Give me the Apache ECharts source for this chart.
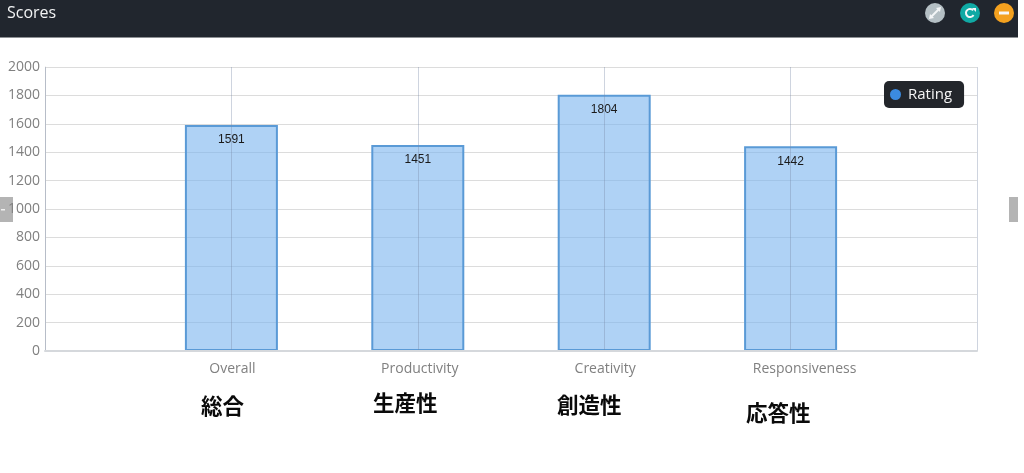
<!DOCTYPE html>
<html><head><meta charset="utf-8">
<style>html,body{margin:0;padding:0;background:#fff}#c{width:1024px;height:473px}</style>
<script src="https://cdn.jsdelivr.net/npm/echarts@6/dist/echarts.min.js"></script>
</head><body><div id="c"></div>
<script>
const categories = ['', 'Overall', 'Productivity', 'Creativity', 'Responsiveness', ''];
const labelNudges = [0, 2, 4, 2, 28, 0];
const ratings = [null, 1591, 1451, 1804, 1442, null];
const seriesName = 'Rating';
const panelTitle = 'Scores';
const japaneseLabels = [
  ['総合', 201, 406],
  ['生産性', 373, 403],
  ['創造性', 557, 405],
  ['応答性', 746, 413]
];
const latin = '"Open Sans", "Noto Sans", sans-serif';
const cjk = '"Noto Sans CJK JP", sans-serif';
const chart = echarts.init(document.getElementById('c'), null, {renderer: 'canvas'});
const header = [
  {type:'rect', shape:{x:0,y:0,width:1018,height:38}, style:{fill:'#21262e'}, z:-5, silent:true},
  {type:'rect', shape:{x:0,y:37,width:1018,height:1}, style:{fill:'#8d9094'}, z:-5, silent:true},
  {type:'text', x:7, y:13, style:{text:panelTitle, font:'16px '+latin, fill:'#f2f3f4', verticalAlign:'middle'}},
  {type:'circle', shape:{cx:935,cy:13,r:10}, style:{fill:'#b4bfc4'}},
  {type:'line', shape:{x1:931,y1:17,x2:939,y2:9}, style:{stroke:'#f4f6f7',lineWidth:2}},
  {type:'polygon', shape:{points:[[929,19],[934,18],[930,14]]}, style:{fill:'#f4f6f7'}},
  {type:'polygon', shape:{points:[[941,7],[936,8],[940,12]]}, style:{fill:'#f4f6f7'}},
  {type:'circle', shape:{cx:970,cy:13,r:10}, style:{fill:'#10a9a4'}},
  {type:'arc', shape:{cx:970,cy:13,r:4,startAngle:0.5,endAngle:5.6}, style:{stroke:'#f4f6f7',lineWidth:2,fill:null}},
  {type:'polygon', shape:{points:[[972,8],[976,8],[976,12]]}, style:{fill:'#f4f6f7'}},
  {type:'circle', shape:{cx:1004,cy:13,r:10}, style:{fill:'#f4a11f'}},
  {type:'rect', shape:{x:999,y:11.5,width:10,height:3}, style:{fill:'#f7f7f7'}},
  {type:'rect', shape:{x:0,y:197,width:13,height:25}, style:{fill:'#b4b4b4'}, z:-5, silent:true},
  {type:'rect', shape:{x:1,y:209,width:4,height:1.5}, style:{fill:'#f0f0f0'}, z:-4, silent:true},
  {type:'rect', shape:{x:1009,y:197,width:9,height:25}, style:{fill:'#b4b4b4'}, z:-5, silent:true}
];
const jp = japaneseLabels.map(([text, x, y]) => ({
  type:'text', x, y, style:{text, font:'bold 21.5px '+cjk, fill:'#0a0a0a', verticalAlign:'middle'}
}));
chart.setOption({
  animation:false,
  backgroundColor:'#ffffff',
  grid:{left:45,right:47,top:67,bottom:122,containLabel:false,show:false},
  legend:{
    show:true, left:884, top:81, padding:[6,12,6,6], backgroundColor:'#23262b',
    borderRadius:5, itemWidth:11, itemHeight:11, icon:'circle',
    data:[{name:seriesName, itemStyle:{color:'#3b8be0',borderWidth:0}}],
    textStyle:{color:'#f5f5f5',fontFamily:latin,fontSize:15,padding:[2,0,0,2]}
  },
  xAxis:{
    type:'category', boundaryGap:false, z:5,
    data:categories.map((value, i) => ({value, textStyle:{padding:[0,0,0,labelNudges[i]]}})),
    axisTick:{show:false},
    axisLine:{show:true,lineStyle:{color:'#d5d8dc',width:2}},
    axisLabel:{show:true,color:'#808080',fontFamily:latin,fontSize:14,margin:11,interval:0},
    splitLine:{show:true,interval:0,lineStyle:{color:'rgba(120,135,165,0.36)',width:1}}
  },
  yAxis:{
    type:'value', min:0, max:2000, interval:200,
    axisTick:{show:false},
    axisLine:{show:true,lineStyle:{color:'#dcdcdc',width:1}},
    axisLabel:{color:'#808080',fontFamily:latin,fontSize:14,margin:5,padding:[4,0,0,0],formatter:v=>String(v)},
    splitLine:{lineStyle:{color:'#dcdcdc',width:1}}
  },
  series:[{
    type:'bar', name:seriesName, data:ratings, barWidth:93, z:3, clip:true,
    itemStyle:{color:'rgba(121,180,238,0.6)',borderColor:'#5a9ad6',borderWidth:2},
    label:{show:true,position:'insideTop',distance:9,color:'#1a1a1a',fontFamily:'"Liberation Sans", Arial, sans-serif',fontSize:12}
  }],
  graphic:{elements:header.concat(jp)}
});
</script></body></html>
